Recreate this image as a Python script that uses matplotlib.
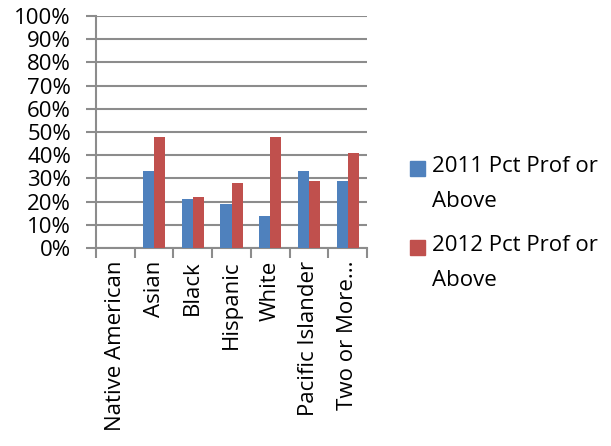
import matplotlib.pyplot as plt
import numpy as np
from matplotlib.patches import Rectangle

plt.rcParams['font.family'] = ['Open Sans', 'DejaVu Sans']

groups = ["Native American", "Asian", "Black", "Hispanic", "White",
          "Pacific Islander", "Two or More..."]
pct_2011 = [np.nan, 0.33, 0.21, 0.19, 0.14, 0.33, 0.29]
pct_2012 = [np.nan, 0.48, 0.22, 0.28, 0.48, 0.29, 0.41]
series_names = ["2011 Pct Prof or\nAbove", "2012 Pct Prof or\nAbove"]
colors = ["#4F81BD", "#C0504D"]
fs = 16

fig = plt.figure(figsize=(6.11, 4.46), dpi=100)
ax = fig.add_axes([96 / 611, 1 - 248 / 446, (367 - 96) / 611, (248 - 16) / 446])

x = np.arange(len(groups))
w = 0.285
ax.bar(x - w / 2, pct_2011, width=w, color=colors[0], zorder=3)
ax.bar(x + w / 2, pct_2012, width=w, color=colors[1], zorder=3)

ax.set_xlim(-0.5, len(groups) - 0.5)
ax.set_ylim(0, 1)
ax.set_yticks(np.arange(0, 1.01, 0.1))
ax.set_yticklabels([f"{int(round(v * 100))}%" for v in np.arange(0, 1.01, 0.1)])
ax.yaxis.grid(True, color="#8c8c8c", linewidth=1.5, zorder=0)
ax.set_axisbelow(True)

# category boundaries get the tick marks, names sit in between
ax.set_xticks(np.arange(-0.5, len(groups)), minor=False)
ax.set_xticklabels([])
ax.set_xticks(x, minor=True)
ax.set_xticklabels(groups, minor=True, rotation=90, va="top", ha="center")
ax.tick_params(axis="x", which="minor", length=0, pad=9, labelsize=fs)
ax.tick_params(axis="x", which="major", length=7, width=1.5, color="#8c8c8c")
ax.tick_params(axis="y", length=7, width=1.5, color="#8c8c8c", labelsize=fs, pad=11)

for s in ["top", "right"]:
    ax.spines[s].set_visible(False)
for s in ["left", "bottom"]:
    ax.spines[s].set_color("#8c8c8c")
    ax.spines[s].set_linewidth(1.5)

# legend on the right, square keys aligned with the first text line
for i, (name, c) in enumerate(zip(series_names, colors)):
    top = 1 - (161 + i * 79) / 446
    fig.patches.append(Rectangle((410 / 611, top - 15 / 446), 15 / 611, 15 / 446,
                                 transform=fig.transFigure, color=c))
    fig.text(432 / 611, top + 5 / 446, name, fontsize=fs, va="top", ha="left",
             linespacing=1.85)

fig.savefig("out.png", dpi=100)
